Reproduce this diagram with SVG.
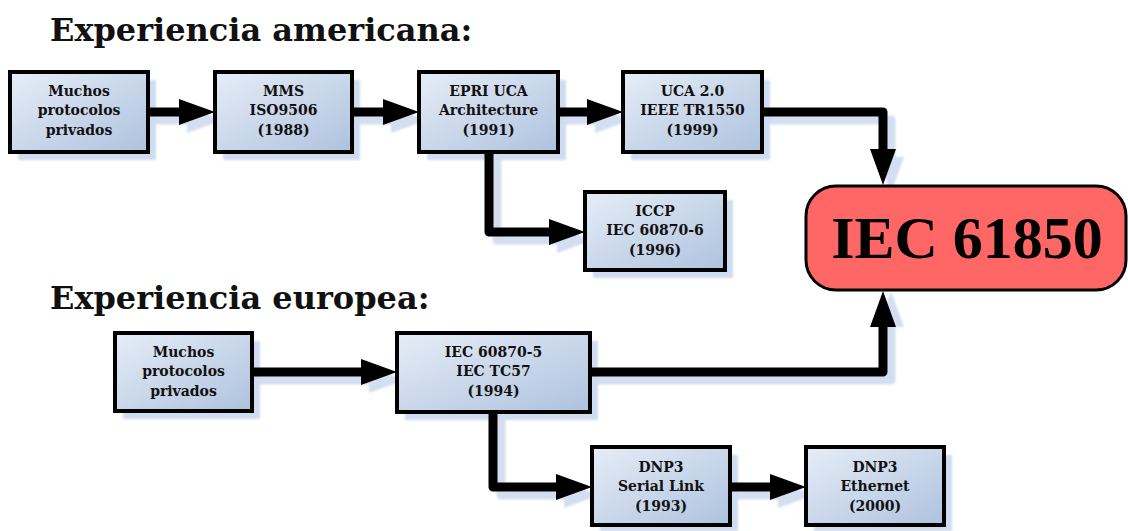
<svg xmlns="http://www.w3.org/2000/svg" width="1128" height="531" viewBox="0 0 1128 531">
  <defs>
    <linearGradient id="boxFill" x1="0" y1="0" x2="1" y2="1">
      <stop offset="0" stop-color="#e6edf7"/>
      <stop offset="1" stop-color="#aec2de"/>
    </linearGradient>
    <filter id="soft" x="-10%" y="-10%" width="120%" height="120%">
      <feGaussianBlur stdDeviation="1.2"/>
    </filter>
    <marker id="arrow" markerUnits="userSpaceOnUse" markerWidth="36" markerHeight="26" refX="6" refY="13" orient="auto">
      <path d="M0,0 L36,13 L0,26 z" fill="#000"/>
    </marker>
    <marker id="arrowSh" markerUnits="userSpaceOnUse" markerWidth="36" markerHeight="26" refX="6" refY="13" orient="auto">
      <path d="M0,0 L36,13 L0,26 z" fill="#d3def0"/>
    </marker>
  </defs>
  <style>
    .box { fill: url(#boxFill); stroke: #000; stroke-width: 4; }
    .shadow { fill: #cfdbef; stroke: none; }
    .lbl { font-family: "DejaVu Serif", "Liberation Serif", serif; font-weight: bold; font-size: 14px; fill: #111; text-anchor: middle; }
    .title { font-family: "DejaVu Serif", "Liberation Serif", serif; font-weight: bold; font-size: 32px; fill: #111; }
    .conn { fill: none; stroke: #000; stroke-width: 9; stroke-linejoin: round; marker-end: url(#arrow); }
    .connSh { fill: none; stroke: #d3def0; stroke-width: 9; stroke-linejoin: round; marker-end: url(#arrowSh); }
    .big { font-family: "Liberation Serif", "DejaVu Serif", serif; font-weight: bold; font-size: 60px; fill: #000; text-anchor: middle; }
  </style>
  <rect width="1128" height="531" fill="#fff"/>

  <text class="title" x="50" y="41">Experiencia americana:</text>
  <text class="title" x="50" y="309">Experiencia europea:</text>

  <!-- shadows -->
  <g id="shadows" filter="url(#soft)">
    <rect class="shadow" x="18" y="80" width="138" height="80"/>
    <rect class="shadow" x="223" y="80" width="137" height="80"/>
    <rect class="shadow" x="427" y="80" width="139" height="80"/>
    <rect class="shadow" x="631" y="80" width="139" height="80"/>
    <rect class="shadow" x="593" y="200" width="140" height="78"/>
    <rect class="shadow" x="123" y="341" width="137" height="78"/>
    <rect class="shadow" x="405" y="341" width="193" height="79"/>
    <rect class="shadow" x="600" y="455" width="138" height="76"/>
    <rect class="shadow" x="814" y="455" width="138" height="76"/>
    <path class="connSh" d="M156,120 H193"/>
    <path class="connSh" d="M360,120 H397"/>
    <path class="connSh" d="M566,120 H601"/>
    <path class="connSh" d="M770,120 H891 V163"/>
    <path class="connSh" d="M497,160 V240 H563"/>
    <path class="connSh" d="M260,380 H375"/>
    <path class="connSh" d="M598,380 H891 V321"/>
    <path class="connSh" d="M501,420 V495 H570"/>
    <path class="connSh" d="M738,495 H784"/>
  </g>

  <!-- connectors -->
  <g id="connectors">
    <path class="conn" d="M148,112 H185"/>
    <path class="conn" d="M352,112 H389"/>
    <path class="conn" d="M558,112 H593"/>
    <path class="conn" d="M762,112 H883 V155"/>
    <path class="conn" d="M489,152 V232 H555"/>
    <path class="conn" d="M252,372 H367"/>
    <path class="conn" d="M590,372 H883 V321"/>
    <path class="conn" d="M493,412 V487 H562"/>
    <path class="conn" d="M730,487 H776"/>
  </g>

  <g id="n1">
    <rect class="box" x="10" y="72" width="138" height="80"/>
    <text class="lbl" x="79" y="96">Muchos</text>
    <text class="lbl" x="79" y="115">protocolos</text>
    <text class="lbl" x="79" y="135">privados</text>
  </g>
  <g id="n2">
    <rect class="box" x="215" y="72" width="137" height="80"/>
    <text class="lbl" x="283.5" y="96">MMS</text>
    <text class="lbl" x="283.5" y="115">ISO9506</text>
    <text class="lbl" x="283.5" y="135">(1988)</text>
  </g>
  <g id="n3">
    <rect class="box" x="419" y="72" width="139" height="80"/>
    <text class="lbl" x="488.5" y="96">EPRI UCA</text>
    <text class="lbl" x="488.5" y="115">Architecture</text>
    <text class="lbl" x="488.5" y="135">(1991)</text>
  </g>
  <g id="n4">
    <rect class="box" x="623" y="72" width="139" height="80"/>
    <text class="lbl" x="692.5" y="96">UCA 2.0</text>
    <text class="lbl" x="692.5" y="115">IEEE TR1550</text>
    <text class="lbl" x="692.5" y="135">(1999)</text>
  </g>
  <g id="n5">
    <rect class="box" x="585" y="192" width="140" height="78"/>
    <text class="lbl" x="655" y="216">ICCP</text>
    <text class="lbl" x="655" y="235">IEC 60870-6</text>
    <text class="lbl" x="655" y="255">(1996)</text>
  </g>
  <g id="iec61850">
    <rect x="806" y="186" width="320" height="104" rx="30" ry="30" fill="#ff6666" stroke="#000" stroke-width="3"/>
    <text class="big" x="967" y="258">IEC 61850</text>
  </g>
  <g id="n6">
    <rect class="box" x="115" y="333" width="137" height="78"/>
    <text class="lbl" x="183.5" y="357">Muchos</text>
    <text class="lbl" x="183.5" y="376">protocolos</text>
    <text class="lbl" x="183.5" y="396">privados</text>
  </g>
  <g id="n7">
    <rect class="box" x="397" y="333" width="193" height="79"/>
    <text class="lbl" x="493.5" y="357">IEC 60870-5</text>
    <text class="lbl" x="493.5" y="376">IEC TC57</text>
    <text class="lbl" x="493.5" y="396">(1994)</text>
  </g>
  <g id="n8">
    <rect class="box" x="592" y="447" width="138" height="78"/>
    <text class="lbl" x="661" y="472">DNP3</text>
    <text class="lbl" x="661" y="491">Serial Link</text>
    <text class="lbl" x="661" y="511">(1993)</text>
  </g>
  <g id="n9">
    <rect class="box" x="806" y="447" width="138" height="78"/>
    <text class="lbl" x="875" y="472">DNP3</text>
    <text class="lbl" x="875" y="491">Ethernet</text>
    <text class="lbl" x="875" y="511">(2000)</text>
  </g>
</svg>
